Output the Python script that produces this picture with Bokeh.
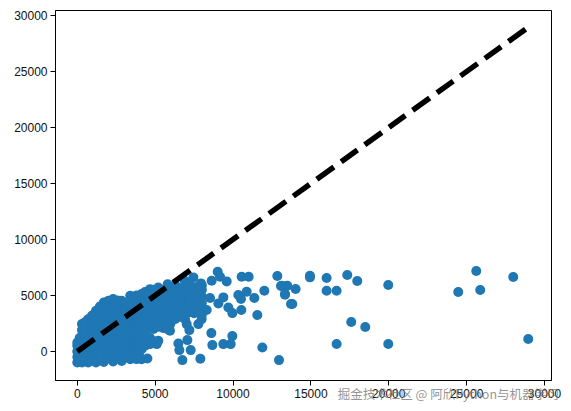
from bokeh.plotting import figure
from bokeh.models import LinearAxis, FixedTicker
from bokeh.embed import file_html
from bokeh.resources import INLINE

# sparse points
outlier_x = [9014, 7452, 10555, 11004, 12845, 9164, 9592, 8629, 7944, 13080, 13444, 12010, 10876, 10341, 13337,
             10512, 11368, 9378, 8522, 9057, 9699, 9956, 10534, 11561, 13722, 8308, 7987, 7773, 6917, 7024,
             7195, 5954, 8608, 9956, 7067, 6489, 8672, 9378, 9849, 11882, 6553, 7281, 6746, 7901, 12952,
             14939, 14939, 16009, 17336, 17978, 19968, 16009, 16651, 14019, 13484, 13120, 13334, 13805,
             17593, 18491, 16651, 19968, 24462, 25618, 25874, 27993, 28956]
outlier_y = [7117, 6610, 6670, 6670, 6729, 6670, 6252, 6312, 6074, 5835, 5835, 5418, 5329, 5031, 5060,
             4673, 4762, 4822, 4762, 4286, 3928, 3421, 3690, 3243, 4226, 3690, 2885, 2438, 2885, 2438,
             1902, 2438, 1633, 1365, 1008, 710, 561, 650, 650, 352, 114, 114, -780, -661, -780,
             6762, 6613, 6553, 6822, 6285, 5928, 5421, 5421, 5570, 5868, 5868, 5123, 4229,
             2620, 2173, 653, 653, 5302, 7179, 5481, 6643, 1100]

# dense mass, estimated by eye from its outline
dense_x = [0, 0, 0, 0, 0,
           300, 300, 300, 300, 300, 300, 300,
           700, 700, 700, 700, 700, 700, 700, 700,
           1200, 1200, 1200, 1200, 1200, 1200, 1200, 1200, 1200,
           1700, 1700, 1700, 1700, 1700, 1700, 1700, 1700, 1700, 1700,
           2300, 2300, 2300, 2300, 2300, 2300, 2300, 2300, 2300, 2300,
           2850, 2850, 2850, 2850, 2850, 2850, 2850, 2850, 2850, 2850,
           3400, 3400, 3400, 3400, 3400, 3400, 3400, 3400, 3400, 3400,
           3800, 3800, 3800, 3800, 3800, 3800, 3800, 3800, 3800, 3800,
           4130, 4130, 4130, 4130, 4130, 4130, 4130, 4130, 4130, 4130,
           4500, 4670, 4670, 4670, 4670, 4670, 4670, 4670, 4670,
           5200, 5100, 5200, 5200, 5200, 5200, 5200, 5200, 5200,
           5800, 5950, 5950, 5800, 5800, 5800, 5800, 5800, 5800,
           6300, 6300, 6300, 6300, 6300, 6300, 6300,
           6900, 6900, 6900, 6900, 6900, 6900, 6900,
           7500, 7500, 7500, 7500, 7500, 7500,
           8000, 8000, 8000, 8000, 8000, 8000]
dense_y = [-990, -500, 0, 500, 800,
           -990, -400, 100, 700, 1300, 1900, 2440,
           -990, -300, 300, 900, 1500, 2100, 2700, 2880,
           -1000, -450, 150, 750, 1350, 1950, 2550, 3150, 3630,
           -950, -350, 250, 850, 1450, 2050, 2650, 3250, 3850, 4370,
           -900, -300, 300, 900, 1500, 2100, 2700, 3300, 3900, 4670,
           -850, -250, 350, 950, 1550, 2150, 2750, 3350, 3950, 4520,
           -700, -100, 500, 1100, 1700, 2300, 2900, 3500, 4100, 4970,
           -690, 100, 700, 1300, 1900, 2500, 3100, 3700, 4300, 5000,
           -700, 200, 800, 1400, 2000, 2600, 3200, 3800, 4400, 5120,
           -630, 650, 1200, 2200, 2800, 3400, 4000, 4600, 5560,
           950, 650, 2200, 2800, 3400, 4000, 4600, 5200, 5700,
           1990, 1850, 2440, 2900, 3500, 4100, 4700, 5300, 6000,
           2900, 3400, 3900, 4400, 4900, 5400, 5900,
           3300, 3800, 4300, 4800, 5300, 5800, 6300,
           3400, 3800, 4300, 4800, 5300, 5700,
           3300, 3700, 4300, 4900, 5500, 5900]

# more points of the same mass, between the ones above
fill_x = [150, 150, 150, 150, 150,
          500, 500, 500, 500, 500, 500, 500,
          950, 950, 950, 950, 950, 950, 950, 950,
          1450, 1450, 1450, 1450, 1450, 1450, 1450, 1450, 1450,
          2000, 2000, 2000, 2000, 2000, 2000, 2000, 2000, 2000, 2000,
          2575, 2575, 2575, 2575, 2575, 2575, 2575, 2575, 2575, 2575,
          3125, 3125, 3125, 3125, 3125, 3125, 3125, 3125, 3125,
          3600, 3600, 3600, 3600, 3600, 3600, 3600, 3600, 3600,
          3950, 3950, 3950, 3950, 3950, 3950, 3950, 3950, 3950,
          4350, 4350, 4350, 4350, 4350, 4350, 4350, 4350, 4350,
          4900, 4900, 4900, 4900, 4900, 4900, 4900, 4900,
          5500, 5500, 5500, 5500, 5500, 5500, 5500,
          6050, 6050, 6050, 6050, 6050, 6050,
          6600, 6600, 6600, 6600, 6600, 6600,
          7200, 7200, 7200, 7200, 7200, 7200,
          7750, 7750, 7750, 7750, 7750]
fill_y = [-750, -250, 250, 650, 1200,
          -700, -100, 400, 1000, 1600, 2200, 2600,
          -650, 0, 600, 1200, 1800, 2400, 3000, 3200,
          -700, -50, 550, 1150, 1750, 2350, 2950, 3550, 4000,
          -600, 0, 600, 1200, 1800, 2400, 3000, 3600, 4200, 4520,
          -550, 50, 650, 1250, 1850, 2450, 3050, 3650, 4250, 4550,
          -500, 100, 700, 1300, 1900, 2500, 3100, 3700, 4350,
          -350, 400, 1000, 1600, 2200, 2800, 3400, 4000, 4650,
          -250, 450, 1050, 1650, 2250, 2850, 3450, 4050, 4750,
          500, 1000, 1700, 2300, 2900, 3500, 4100, 4700, 5300,
          900, 2000, 2500, 3100, 3700, 4300, 4900, 5500,
          2100, 2500, 3100, 3700, 4300, 4900, 5450,
          2700, 3200, 3800, 4400, 5000, 5700,
          3100, 3650, 4150, 4650, 5150, 5650,
          3500, 4050, 4550, 5050, 5550, 6100,
          3500, 4100, 4600, 5200, 5800]

line_x = [0, 28800]
line_y = [0, 28800]
tick_values = [0, 5000, 10000, 15000, 20000, 25000, 30000]
watermark = "掘金技术社区 @ 阿欣Python与机器学习"

p = figure(width=571, height=411, x_range=(-1400, 30450), y_range=(-2600, 30450),
           output_backend="svg", toolbar_location=None,
           min_border_left=55, min_border_right=20, min_border_top=10, min_border_bottom=31,
           background_fill_color="white", border_fill_color="white")
p.grid.visible = False
p.outline_line_color = "black"
p.outline_line_width = 1
for ax in (p.xaxis[0], p.yaxis[0]):
    ax.ticker = FixedTicker(ticks=tick_values)
    ax.minor_tick_line_color = None
    ax.major_tick_in = 0
    ax.major_tick_out = 5
    ax.major_tick_line_color = "black"
    ax.axis_line_color = "black"
    ax.major_label_text_font = "Liberation Sans"
    ax.major_label_text_font_size = "12px"
    ax.major_label_text_color = "#111111"
    ax.major_label_standoff = 3
p.yaxis[0].major_label_orientation = "horizontal"

p.scatter(outlier_x + dense_x + fill_x, outlier_y + dense_y + fill_y, size=10, marker="circle",
          color="#1f77b4", line_color=None)
p.line(line_x, line_y, line_color="black", line_width=5.5, line_dash="21 9 20 9", line_cap="butt")

# the watermark sits across the tick labels: it is the label of a second, otherwise empty axis;
# that label is centred under the frame, so ideographic spaces push the visible text to the right
mark_axis = LinearAxis(ticker=FixedTicker(ticks=[]), axis_label="\u3000" * 23 + "\u00a0" + watermark,
                       axis_line_color=None, major_tick_line_color=None, minor_tick_line_color=None,
                       major_label_text_color=None, axis_label_standoff=-17,
                       axis_label_text_font="Noto Sans CJK SC", axis_label_text_font_size="12.5px",
                       axis_label_text_font_style="normal", axis_label_text_color="#777777",
                       axis_label_text_alpha=0.8)
p.add_layout(mark_axis, "below")

open("out.html", "w").write(file_html(p, INLINE))
